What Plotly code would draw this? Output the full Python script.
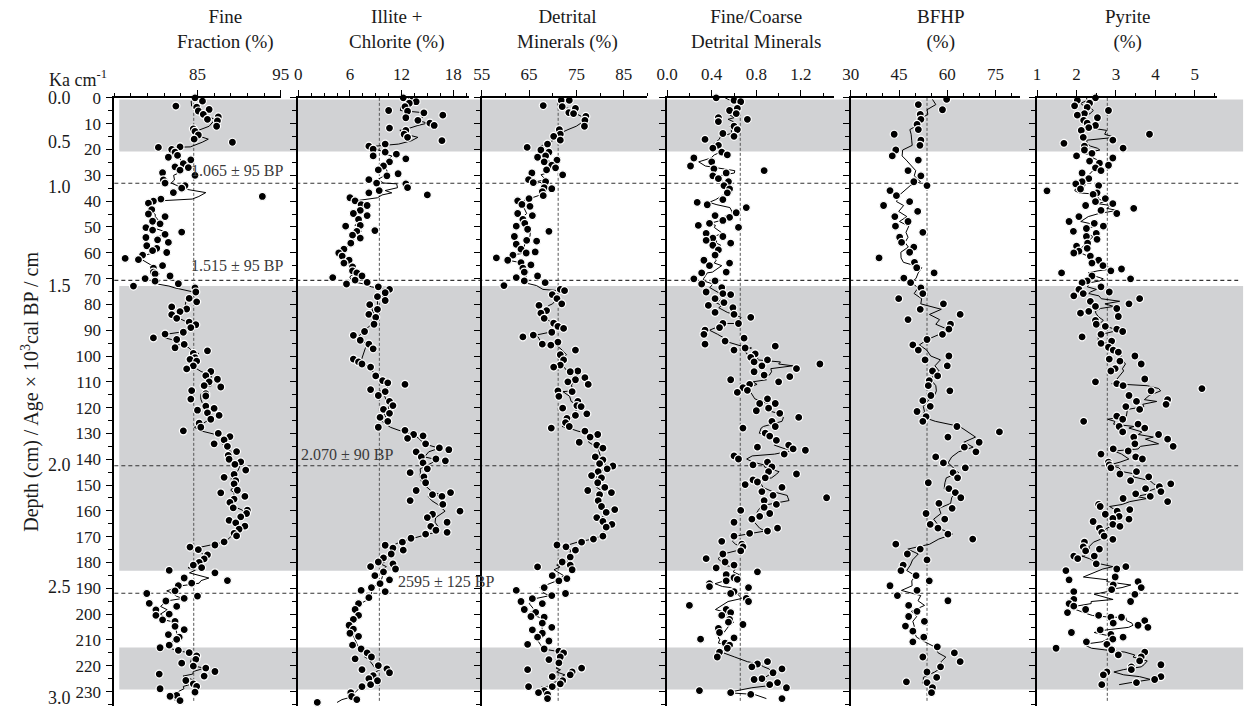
import numpy as np
import pandas as pd
import plotly.graph_objects as go

W, H = 1258, 707
FONT = "Liberation Serif, Times New Roman, serif"

# ---------------- data (depth in cm) ----------------
FINE_DEPTH = [0, 1.3, 3.2, 3.6, 4.5, 5.1, 6.4, 7.4, 8.3, 8.9, 11, 12, 13, 14.4, 16, 17.2, 19, 19.2, 20, 21,
              22.3, 23, 24, 25.5, 26.7, 27, 28, 29, 30, 31.8, 33, 34, 35, 36.7, 38.2, 39.2, 40, 40.8, 43.3, 45,
              46, 47.8, 48.8, 50.3, 51.2, 52, 52.9, 54.1, 55, 56, 57.3, 58.3, 59.2, 59.9, 60.9, 62.2, 62.7, 65, 66, 67.5,
              68.2, 69, 70, 71, 72, 72.9, 73.6, 75.2, 77.7, 79, 81, 81.8, 82.8, 84, 85.4, 86.9, 87.9, 89, 90.8, 91.5,
              93, 93.6, 95.5, 96.8, 98, 99, 100.6, 101.3, 102, 103.8, 105, 106, 107.6, 109, 110, 111.5, 112, 113.4, 114.6, 115.5,
              116.7, 119.4, 120.3, 121, 122, 123, 124.5, 126, 127.6, 129, 130, 131.2, 132.5, 134, 135, 137, 138.5, 140, 141, 142,
              144.2, 145.9, 147, 148.3, 149.5, 152, 153, 154.4, 155.4, 156.7, 158.8, 159.7, 161, 162.3, 163.7, 164.6, 165.9, 167.1, 168.7, 169.7,
              172, 173.2, 174, 175, 177, 178.6, 179.9, 181, 182, 183, 184, 186, 187, 188, 189, 191, 192, 193, 193.9, 194.9,
              195.8, 197, 198.3, 200, 200.5, 202.2, 202.8, 204.7, 206, 207.9, 208.9, 209.8, 212, 213, 214, 214.9, 216.2, 217.5, 219, 220.1,
              220.9, 222.2, 223.2, 224, 225.7, 227, 228, 228.9, 230.2, 231.5, 231.8, 233.5]
FINE = [84.7, 85.6, 82.4, 84.9, 86.4, 85.1, 85.7, 87.5, 86.2, 87.4, 87.3, 84.5, 84.7, 85.1, 84.6, 89.2, 82.9, 80.3, 81.9, 82.3,
        82.6, 81.5, 84.2, 83.3, 82.3, 83.9, 82.9, 80.8, 84.7, 80.9, 81.1, 83.5, 83.1, 82.1, 92.8, 80.6, 79.7, 79.1, 79.5, 79.1,
        81.1, 79.6, 80.5, 78.8, 79.6, 83.1, 81.1, 78.8, 80.2, 81.5, 78.9, 80.1, 79.6, 81.3, 78.4, 76.3, 77.9, 80.8, 79.7, 79.7,
        79.9, 81.7, 78.7, 79.9, 82.7, 77.3, 84.7, 84.8, 84.0, 84.9, 81.9, 83.7, 82.9, 81.9, 82.5, 84.0, 84.8, 84.2, 83.3, 81.1,
        79.7, 82.5, 83.4, 82.3, 86.2, 84.5, 84.7, 84.1, 84.9, 84.5, 83.7, 86.6, 86.0, 87.4, 86.4, 85.8, 87.8, 84.3, 86.0, 86.0,
        84.2, 86.0, 87.0, 85.0, 86.2, 87.6, 86.6, 85.2, 85.4, 83.3, 87.5, 88.9, 88.2, 87.0, 88.6, 89.7, 88.7, 88.8, 90.2, 89.5,
        90.8, 89.4, 88.2, 89.6, 89.4, 89.8, 87.8, 90.7, 89.4, 88.9, 89.3, 91.0, 90.9, 90.2, 88.8, 89.6, 90.7, 90.0, 89.4, 89.7,
        88.2, 87.1, 84.1, 85.1, 86.2, 85.8, 85.2, 84.5, 85.5, 81.6, 87.1, 83.4, 88.6, 84.3, 82.7, 82.3, 78.9, 85.0, 83.4, 81.2,
        79.2, 82.5, 80.0, 81.6, 80.0, 80.8, 82.3, 82.3, 83.4, 81.5, 82.8, 82.5, 81.6, 80.5, 82.7, 84.0, 84.9, 84.8, 83.1, 84.5,
        86.0, 87.1, 80.4, 85.8, 83.6, 84.5, 84.9, 80.5, 84.7, 82.5, 81.7, 82.9]

ILLITE_DEPTH = [0, 1, 1.5, 2.1, 3.4, 4.9, 5.2, 5.8, 6.7, 7.7, 8.7, 9.8, 10.7, 11.7, 12.6, 14.1, 15.3, 16.6, 17.9, 18.7,
                19.9, 21, 21.8, 22.5, 23.6, 24.8, 26.4, 27.9, 29.4, 30.2, 31.7, 33, 33.3, 34.8, 35.9, 36.8, 37.6, 38.7, 39.9, 41.4,
                41.7, 43.6, 44.8, 45.6, 47.1, 49.4, 49.7, 51.4, 51.7, 53.2, 54.3, 56.3, 58.6, 60.1, 61.3, 62.9, 64, 65.5, 67, 67.8,
                69, 69.6, 70.6, 71.5, 72.1, 73.2, 74.2, 75.5, 77, 78.5, 80.1, 81.9, 83.9, 85, 87.7, 90.5, 92, 93.9, 95.4, 97.2,
                101.2, 102.3, 103.1, 104.3, 107.7, 109.5, 110.4, 111, 113, 113.8, 115.3, 117.6, 119.2, 120.7, 122.2, 123.8, 125.3, 127.6, 128.8, 130.4,
                130.9, 131.9, 134, 135.6, 136.3, 137.1, 139.1, 139.9, 140.6, 141.4, 143.7, 145.2, 146.8, 149.1, 152.1, 152.9, 153.7, 154.4, 156, 157.5,
                160.1, 161.3, 162.6, 164.4, 166, 167.5, 168.3, 169, 170.6, 172.1, 173.3, 174.4, 175.2, 176.7, 178.2, 179.8, 180.5, 181.6, 182.5, 183.6,
                185.1, 186.7, 188.2, 189.7, 190.8, 191.3, 193.6, 195.9, 198.2, 200.5, 202, 204.3, 205.8, 207.4, 208.6, 212, 213.5, 215, 216.6, 217.3,
                219.9, 221.2, 221.5, 222.7, 223.8, 225, 225.8, 227.3, 228.1, 230.4, 231.9, 233.1, 234.2]
ILLITE = [12.2, 13.3, 13.7, 12.9, 12.4, 10.5, 12.7, 14.6, 16.8, 12.5, 13.9, 15.3, 15.8, 10.6, 12.5, 12.3, 12.7, 16.7, 10.1, 8.2,
          8.7, 10.1, 11.4, 8.7, 12.5, 10.6, 9.9, 9.3, 11.6, 10.3, 8.2, 9.1, 12.5, 12.7, 9.4, 8.2, 15.0, 6.0, 6.6, 7.3,
          8.0, 7.2, 6.4, 8.0, 7.0, 7.2, 5.5, 8.9, 6.8, 6.3, 7.2, 6.1, 5.3, 4.7, 5.1, 5.9, 5.3, 6.3, 6.3, 6.8,
          7.4, 4.0, 6.6, 8.0, 5.6, 9.3, 10.6, 10.1, 9.2, 10.1, 8.3, 9.2, 8.2, 9.0, 8.8, 7.7, 6.4, 7.2, 8.2, 8.7,
          6.4, 7.0, 7.4, 8.4, 9.0, 9.8, 10.4, 12.4, 8.4, 10.1, 9.3, 10.6, 11.0, 9.9, 10.6, 9.5, 10.4, 9.3, 12.4, 13.4,
          14.5, 12.7, 14.8, 16.4, 17.5, 13.7, 14.3, 16.0, 17.1, 14.5, 15.0, 13.0, 14.6, 14.8, 13.7, 17.7, 15.6, 16.7, 13.0, 16.8,
          18.8, 15.6, 15.0, 17.3, 15.4, 16.0, 17.3, 14.8, 13.1, 12.1, 10.1, 11.0, 12.2, 10.8, 9.9, 9.3, 11.0, 8.4, 11.3, 9.9,
          8.9, 10.6, 9.5, 8.5, 7.3, 10.1, 8.2, 7.0, 6.6, 7.0, 6.4, 5.9, 6.4, 6.0, 7.0, 6.3, 7.3, 8.0, 8.5, 6.6,
          9.3, 10.3, 7.4, 10.6, 8.7, 8.2, 9.2, 8.4, 7.4, 6.1, 6.2, 6.8, 2.2]

DETRITAL_DEPTH = [1, 1, 3, 3.4, 4.1, 5.7, 6.1, 7.2, 8.7, 11, 12.3, 14.1, 14.9, 16.4, 17.9, 19.2, 20.2, 21, 22.5, 23,
                  24.1, 24.8, 26.1, 27.1, 27.9, 29.1, 29.8, 31.7, 32.5, 32.8, 34.8, 35.2, 36.3, 37.9, 39, 39.9, 41.3, 42, 44.8, 45.6,
                  47.1, 48.6, 49.7, 50.9, 51.7, 53.7, 55.2, 55.5, 56.7, 58.6, 59.7, 60.1, 60.9, 62, 62.9, 63.8, 64.7, 66, 67.5, 69,
                  69.6, 70.9, 71.6, 72.7, 74.2, 74.7, 76.2, 77.8, 79.8, 80.4, 82.4, 83.4, 85.4, 87.3, 88.5, 89.3, 90.8, 91.9, 92.6, 94.6,
                  95.4, 95.8, 97.7, 99.5, 101.5, 103.5, 104.3, 105.8, 106.1, 108.4, 109.2, 110, 111, 113.5, 113.8, 115.6, 117.6, 119.2, 119.6, 120.2,
                  122.4, 123, 124.2, 125.8, 127.3, 127.9, 129.1, 130.4, 131.4, 133.4, 134.5, 135.7, 139.1, 140.2, 141.7, 142.6, 143.7, 144.8, 146.3, 147.2,
                  149.1, 150.9, 152.1, 152.9, 153.7, 156, 158.3, 159.5, 160.6, 162.6, 164.1, 165.2, 166.3, 169.8, 170.9, 172.1, 173.2, 173.9, 175.2, 177.9,
                  179.8, 181, 181.7, 182.8, 185.1, 186.2, 187.1, 189.7, 190.8, 192, 192.8, 194, 195.1, 195.9, 198.2, 199.3, 200.9, 201.2, 203.5, 205.1,
                  206.1, 207.4, 208.9, 210.4, 211.7, 213.5, 214.3, 215, 216.6, 217.6, 218.9, 220.9, 221.5, 222.4, 223.5, 224.2, 225.8, 227, 228.1, 228.1,
                  229.6, 230.4, 231.1, 232.7]
DETRITAL = [71.8, 73.5, 68.0, 72.0, 74.8, 73.4, 74.4, 77.0, 76.8, 76.7, 71.4, 71.6, 70.2, 71.6, 68.9, 64.6, 67.5, 69.2, 68.5, 66.8,
            70.9, 68.2, 69.8, 70.6, 68.7, 65.6, 72.1, 64.9, 68.5, 65.9, 68.2, 69.8, 67.8, 68.0, 65.0, 62.6, 63.5, 65.2, 62.6, 65.7,
            63.7, 64.1, 62.3, 64.7, 69.2, 61.9, 64.5, 66.6, 62.3, 63.3, 66.3, 64.4, 61.6, 58.1, 60.5, 63.3, 65.4, 63.7, 64.0, 66.8,
            62.3, 64.0, 68.4, 59.7, 71.6, 72.5, 69.9, 70.9, 71.9, 67.1, 68.7, 67.5, 68.2, 70.2, 71.1, 72.3, 69.8, 65.9, 63.7, 71.1,
            67.8, 69.6, 74.8, 71.6, 72.3, 71.6, 70.2, 75.3, 73.7, 76.8, 74.8, 73.2, 77.5, 71.1, 74.1, 71.3, 75.3, 75.1, 76.0, 72.1,
            77.2, 74.8, 73.0, 72.7, 73.5, 69.7, 76.8, 79.5, 77.9, 75.6, 79.3, 80.6, 79.0, 80.6, 79.9, 82.7, 81.5, 79.6, 78.2, 80.3,
            79.5, 81.0, 77.4, 82.4, 79.9, 79.6, 80.3, 83.1, 81.3, 79.3, 80.6, 82.5, 81.3, 80.6, 78.6, 76.1, 70.9, 72.8, 74.8, 73.7,
            72.0, 73.7, 66.8, 74.1, 69.9, 73.0, 71.3, 68.2, 62.3, 72.7, 69.8, 65.7, 63.3, 67.8, 64.0, 66.4, 65.4, 68.2, 67.8, 69.8,
            65.7, 67.8, 66.8, 69.2, 64.7, 68.2, 71.3, 72.3, 71.6, 69.2, 71.3, 76.1, 64.7, 74.1, 73.7, 69.9, 72.1, 71.6, 64.9, 69.9,
            68.2, 67.0, 68.9, 68.9]

RATIO_DEPTH = [0, 1, 1.5, 4.1, 4.9, 6.1, 7.7, 8.3, 9.2, 11, 12.3, 13.8, 14.9, 16.1, 18.4, 19.5, 21, 22.1, 23.3, 24.8,
               26.4, 27.5, 28.2, 29.1, 30.2, 31.3, 32.5, 34, 35.3, 36.8, 39.4, 40.5, 41.4, 42.5, 44.5, 45.6, 46.3, 47.5, 48.6, 49.4,
               50.2, 52.5, 53.7, 54.3, 55.2, 56.3, 57.1, 58.9, 60.9, 62.9, 64, 65, 67.5, 67.8, 70.1, 70.9, 72.1, 73.5, 75.2, 75.8,
               76.2, 77.8, 79.3, 80.4, 81.3, 83.1, 83.9, 85, 87.4, 87.4, 89, 90, 91.6, 93.1, 94.2, 95.4, 96.2, 96.9, 97.7, 99.2,
               100.5, 101.5, 102.3, 103.1, 103.8, 104.9, 106.1, 107.4, 108, 109.2, 110, 111, 112.3, 113.3, 114.1, 116.6, 118.4, 118.4, 120.2, 121.2,
               122.2, 123.8, 125.3, 127.3, 127.9, 129.9, 131, 132.7, 134.5, 135.3, 136, 136.5, 138, 138.7, 139.9, 141.1, 142.2, 143, 144.8, 145.7,
               147.2, 148, 148.8, 149.8, 150.9, 152.5, 154, 154.9, 156, 157.5, 158.6, 159.8, 161, 162.1, 163.2, 164.4, 166.7, 167.8, 168.7, 169.8,
               171.8, 172.9, 173.9, 175.5, 176.7, 178.5, 179.8, 181, 182.1, 183.6, 184.7, 185.9, 186.5, 187.1, 188.2, 189.3, 189.7, 191.3, 192, 193.9,
               195.1, 196.6, 198.2, 199.4, 200.5, 202, 203.1, 204, 205.5, 207.1, 209.2, 209.7, 211.2, 212, 213.2, 214.7, 216.6, 218.4, 219.3, 220.4,
               221.2, 222.7, 225, 225.3, 226.5, 227.3, 228.5, 229.6, 230.4, 231.1, 232.7]
RATIO = [0.44, 0.60, 0.66, 0.63, 0.56, 0.62, 0.46, 0.72, 0.46, 0.60, 0.63, 0.50, 0.60, 0.34, 0.46, 0.41, 0.49, 0.54, 0.24, 0.40,
         0.21, 0.42, 0.87, 0.53, 0.41, 0.46, 0.55, 0.51, 0.56, 0.54, 0.50, 0.27, 0.36, 0.71, 0.62, 0.43, 0.56, 0.50, 0.38, 0.28,
         0.64, 0.35, 0.50, 0.41, 0.35, 0.57, 0.41, 0.46, 0.43, 0.33, 0.56, 0.38, 0.53, 0.31, 0.24, 0.43, 0.31, 0.49, 0.35, 0.50,
         0.57, 0.43, 0.51, 0.37, 0.59, 0.43, 0.60, 0.75, 0.64, 0.50, 0.47, 0.34, 0.33, 0.69, 0.52, 0.34, 0.97, 0.70, 0.60, 0.79,
         0.75, 0.90, 0.78, 1.37, 0.85, 1.16, 0.78, 0.87, 1.10, 0.57, 1.00, 0.74, 0.68, 0.72, 0.63, 0.90, 0.83, 0.97, 0.91, 0.80,
         1.01, 1.18, 0.94, 0.97, 0.68, 0.88, 0.92, 0.98, 1.09, 0.81, 1.13, 1.24, 1.05, 0.60, 0.64, 0.90, 0.77, 0.94, 0.91, 1.16,
         0.88, 0.77, 0.81, 0.70, 1.03, 0.85, 0.95, 1.43, 0.87, 0.98, 0.87, 0.66, 0.92, 0.83, 0.76, 0.60, 0.99, 0.90, 0.74, 0.60,
         0.49, 0.67, 0.68, 0.66, 0.50, 0.35, 0.52, 0.60, 0.44, 0.81, 0.53, 0.60, 0.63, 0.53, 0.38, 0.38, 0.73, 0.60, 0.57, 0.71,
         0.73, 0.20, 0.53, 0.57, 0.49, 0.56, 0.55, 0.68, 0.46, 0.47, 0.60, 0.30, 0.52, 0.56, 0.54, 0.47, 0.45, 0.90, 0.81, 0.76,
         1.03, 0.95, 0.85, 0.78, 0.99, 0.92, 1.07, 0.29, 0.57, 0.75, 1.03]

BFHP_DEPTH = [0.6, 2.6, 4.6, 6.4, 8.3, 10.3, 12.3, 14.1, 16.4, 18.4, 20.2, 22.5, 24.1, 28.2, 30.2, 32.5, 34, 35.9, 37.9, 40.2,
              41.7, 44, 46, 47.9, 49.7, 52.1, 54, 56, 57.8, 59.8, 62, 63.7, 65.8, 67.8, 69.8, 71.6, 73.6, 75.8, 77.8, 79.8,
              81.9, 83.9, 85.9, 87.7, 89.6, 91.6, 93.6, 95.7, 97.7, 100, 101.5, 103.8, 105.8, 107.7, 109.5, 111.5, 113.5, 115.3, 117.3, 119.5,
              121.5, 123.5, 125.3, 127.3, 129.4, 131.4, 133.4, 135.3, 137.1, 139.1, 141.4, 143.3, 145.2, 147.2, 149.1, 151.4, 152.9, 154.9, 157.1, 159,
              161, 163.2, 165.2, 166.7, 169, 170.9, 172.9, 174.8, 176.7, 179, 181, 183.1, 185.1, 187.1, 189, 190.8, 192.8, 194.8, 196.6, 198.9,
              200.9, 202.8, 204.6, 206.6, 208.9, 210.7, 212.7, 215, 216.6, 218.4, 220.4, 222.4, 224.5, 226.2, 226.5, 228.5, 230.4]
BFHP = [59.8, 51.0, 58.5, 51.6, 51.8, 50.6, 51.0, 43.5, 51.8, 51.5, 44.0, 42.9, 51.0, 47.8, 51.8, 49.6, 53.7, 42.2, 44.2, 48.3,
        40.2, 50.8, 43.7, 47.8, 43.9, 52.4, 45.2, 45.8, 49.6, 48.3, 38.8, 49.8, 50.5, 55.9, 46.5, 48.6, 51.8, 52.4, 44.9, 58.8,
        51.6, 64.0, 47.8, 61.0, 60.5, 58.5, 53.7, 49.3, 51.0, 60.5, 53.1, 60.0, 55.4, 57.0, 54.4, 54.1, 60.8, 54.9, 52.4, 54.7,
        50.6, 53.4, 52.4, 63.0, 76.2, 60.2, 69.9, 65.3, 68.9, 56.4, 58.8, 65.6, 61.8, 63.2, 54.1, 60.5, 62.5, 64.2, 57.4, 61.5,
        53.4, 59.2, 54.7, 57.1, 60.2, 67.9, 44.0, 51.6, 47.6, 53.7, 46.3, 45.6, 50.3, 54.4, 42.2, 50.6, 44.5, 60.2, 48.0, 50.6,
        48.0, 52.9, 47.0, 49.3, 52.7, 49.3, 56.9, 62.2, 52.4, 64.0, 57.9, 53.7, 56.7, 47.3, 53.7, 55.4, 55.1]

PYRITE_DEPTH = [0, 1, 2.1, 3.1, 3.7, 4.9, 6.1, 6.7, 7.7, 8.7, 9.8, 10.7, 11.5, 12.6, 14.1, 15.3, 16.4, 17.6, 18.7, 19.5,
                20.2, 21.5, 22.5, 23.3, 24.5, 25.3, 26.1, 27.1, 28.2, 29.1, 31.3, 32.5, 33.3, 34, 35.3, 36, 36.8, 37.4, 39, 40.2,
                41, 41.7, 42.8, 43.6, 44.8, 46, 47.9, 48.6, 49.7, 50.6, 51.7, 52.5, 53.7, 54.8, 56.3, 57.4, 58.3, 59.4, 60.1, 61.3,
                62.9, 64, 65, 66.3, 67, 67.8, 69, 70.1, 70.9, 71.6, 73.2, 74.2, 75.2, 75.8, 76.7, 77.8, 78.8, 79.8, 80.8, 81.6,
                82.7, 83.4, 84.7, 86.2, 87.7, 88.5, 89.6, 90.5, 91.6, 92.6, 94.2, 95.1, 96.6, 97.7, 98.5, 100, 101.2, 102, 103.1, 104.9,
                105.8, 108.9, 110, 110.7, 111.5, 112.6, 113.5, 115.3, 116.9, 117.6, 118.7, 119.6, 120.7, 123.3, 124.5, 125.3, 126.4, 127.3, 127.9, 129.4,
                130.4, 131.4, 132.2, 134, 135, 136, 136.8, 138, 139.1, 139.9, 141.1, 142.2, 143.3, 144.8, 145.7, 146.8, 148.3, 149.5, 150.6, 151.4,
                152.5, 153.4, 154.4, 155.2, 156.4, 157.5, 158.3, 159.5, 160.1, 161.3, 162.1, 162.9, 163.2, 164.1, 165.2, 166, 166.7, 168.3, 169.8, 171,
                172.1, 173.9, 174.8, 175.5, 177.5, 177.5, 178.5, 180.5, 181.6, 182.5, 183.1, 185.6, 186.7, 187.4, 188.7, 189.7, 190.5, 191.3, 192.3, 194.3,
                195.1, 195.9, 196.9, 198.2, 199.4, 200.5, 201.2, 201.2, 202.5, 203.5, 204.3, 205.1, 206.1, 207.1, 207.8, 208.9, 209.7, 210.7, 211.7, 213.2,
                213.8, 214.7, 215.8, 216.6, 218.1, 219.6, 220.4, 221.5, 222.4, 223.5, 224.2, 225.3, 226.5, 227.3]
PYRITE = [2.48, 2.02, 2.33, 1.95, 2.27, 2.81, 2.20, 2.02, 2.53, 2.18, 2.27, 2.48, 2.31, 2.12, 3.85, 2.17, 2.92, 1.68, 2.20, 3.18,
          2.20, 2.39, 2.00, 2.92, 2.33, 2.58, 2.81, 2.48, 2.62, 2.14, 2.31, 2.14, 1.98, 2.56, 2.10, 1.25, 2.52, 2.42, 2.73, 2.48,
          2.92, 2.23, 3.45, 2.62, 3.02, 2.06, 1.81, 2.45, 2.68, 2.25, 1.92, 2.50, 2.25, 2.52, 2.28, 2.00, 2.27, 2.06, 1.93, 2.35,
          2.56, 2.39, 2.67, 3.14, 2.87, 1.62, 2.39, 3.37, 2.27, 2.14, 2.62, 2.06, 2.83, 2.17, 1.93, 3.60, 2.35, 3.33, 2.48, 3.02,
          2.31, 2.10, 3.06, 2.48, 2.50, 2.73, 3.02, 3.17, 2.62, 2.14, 2.89, 2.62, 2.81, 2.93, 3.06, 3.48, 2.83, 3.10, 3.64, 2.98,
          2.87, 3.73, 2.48, 3.02, 3.18, 5.18, 3.89, 3.33, 4.31, 3.52, 4.27, 3.25, 3.60, 3.02, 3.17, 2.18, 3.56, 3.08, 3.73, 3.17,
          4.08, 3.45, 4.31, 3.48, 4.45, 2.93, 3.31, 2.62, 3.50, 3.67, 2.81, 2.83, 2.87, 3.52, 3.10, 3.83, 3.37, 4.39, 4.10, 3.75,
          4.14, 3.50, 3.87, 3.18, 4.31, 2.56, 2.60, 3.35, 3.03, 2.73, 3.08, 2.92, 3.33, 2.42, 2.92, 3.10, 2.58, 2.64, 2.70, 2.92,
          2.20, 2.17, 2.58, 2.23, 1.93, 2.45, 2.03, 2.50, 3.25, 3.02, 1.73, 2.98, 1.81, 3.56, 2.93, 3.64, 2.89, 1.93, 3.48, 1.93,
          3.37, 1.81, 1.93, 2.23, 1.77, 2.56, 2.87, 3.14, 3.73, 2.93, 3.56, 3.81, 2.60, 1.87, 2.87, 3.18, 2.92, 2.25, 2.77, 1.48,
          2.89, 3.73, 3.06, 3.64, 3.60, 4.14, 3.39, 3.39, 2.77, 2.68, 4.14, 3.98, 3.52, 2.64]

TITLES = ["Fine<br>Fraction (%)", "Illite +<br>Chlorite (%)", "Detrital<br>Minerals (%)",
          "Fine/Coarse<br>Detrital Minerals", "BFHP<br>(%)", "Pyrite<br>(%)"]
MEANS = [84.55, 9.42, 71.15, 0.656, 53.7, 2.78]
RANGES = [[75, 95], [0, 19.8], [55, 90], [0, 1.5], [30, 82.5], [1, 5.55]]
MAJOR_TICKS = [[85, 95], [0, 6, 12, 18], [55, 65, 75, 85], [0, 0.4, 0.8, 1.2], [30, 45, 60, 75], [1, 2, 3, 4, 5]]
MAJOR_TEXT = [["85", "95"], ["0", "6", "12", "18"], ["55", "65", "75", "85"], ["0.0", "0.4", "0.8", "1.2"],
              ["30", "45", "60", "75"], ["1", "2", "3", "4", "5"]]
MINOR_STEP = [2, 1.5, 5, 0.2, 5, 0.5]

BANDS = [[0.6, 20.8], [72.9, 183.2], [212.9, 229.2]]
DATE_LINES = [33.1, 70.7, 142.5, 191.9]
DATE_LABELS = ["1.065 ± 95 BP", "1.515 ± 95 BP", "2.070 ± 90 BP", "2595 ± 125 BP"]
DATE_LABEL_DEPTH = [28.3, 64.9, 138.0, 187.3]
AGE_LABELS = ["0.0", "0.5", "1.0", "1.5", "2.0", "2.5", "3.0"]
AGE_DEPTH = [0, 17.2, 34.4, 72.7, 142.1, 189.3, 232.4]

# ---------------- layout geometry (pixels) ----------------
PANEL_L = [105, 292, 478.3, 666.7, 853.3, 1042.7]
PANEL_R = [274, 465, 646.7, 836.7, 1025, 1225]
TITLE_X = [218, 392, 565, 757, 945, 1135]
DATE_X = [181, 181, 293, 391]
Y_TOP, Y_BOT = 90, 705.8
DEPTH_MAX = 235.5

datasets = [(FINE_DEPTH, FINE), (ILLITE_DEPTH, ILLITE), (DETRITAL_DEPTH, DETRITAL),
            (RATIO_DEPTH, RATIO), (BFHP_DEPTH, BFHP), (PYRITE_DEPTH, PYRITE)]

fig = go.Figure()
layout = {}
shapes = []
ann = []
ydom = [1 - Y_BOT / H, 1 - Y_TOP / H]
tickfont = dict(family=FONT, size=17, color="#1a1a1a")

for i, (dep, val) in enumerate(datasets, start=1):
    d = np.asarray(dep, dtype=float)
    v = np.asarray(val, dtype=float)
    order = np.argsort(d, kind="stable")
    d, v = d[order], v[order]
    smooth = pd.Series(v).rolling(3, center=True, min_periods=1).mean().values
    xa = "x" if i == 1 else f"x{i}"
    ya = "y" if i == 1 else f"y{i}"
    fig.add_trace(go.Scatter(x=smooth, y=d, mode="lines", line=dict(color="black", width=1),
                             xaxis=xa, yaxis=ya, hoverinfo="skip", showlegend=False))
    fig.add_trace(go.Scatter(x=v, y=d, mode="markers",
                             marker=dict(size=8, color="black", line=dict(color="white", width=1.2)),
                             xaxis=xa, yaxis=ya, cliponaxis=False, showlegend=False))
    k = i - 1
    xkey = "xaxis" if i == 1 else f"xaxis{i}"
    ykey = "yaxis" if i == 1 else f"yaxis{i}"
    layout[xkey] = dict(
        domain=[PANEL_L[k] / W, PANEL_R[k] / W], anchor=ya, side="top", range=RANGES[k],
        tickmode="array", tickvals=MAJOR_TICKS[k], ticktext=MAJOR_TEXT[k],
        ticks="outside", ticklen=6, tickwidth=1.3, tickcolor="black",
        showline=True, linecolor="black", linewidth=1.8, showgrid=False, zeroline=False,
        tickfont=tickfont, ticklabelstandoff=3,
        minor=dict(tickmode="linear", tick0=RANGES[k][0], dtick=MINOR_STEP[k], ticks="outside",
                   ticklen=3, tickwidth=1, tickcolor="black", showgrid=False),
        fixedrange=True)
    layout[ykey] = dict(
        domain=ydom, anchor=xa, range=[DEPTH_MAX, 0],
        tickmode="linear", tick0=0, dtick=10, ticks="outside", ticklen=6, tickwidth=1.3, tickcolor="black",
        showline=True, linecolor="black", linewidth=1.8, showgrid=False, zeroline=False,
        showticklabels=(i == 1), tickfont=tickfont, ticklabelstandoff=2,
        minor=dict(tickmode="linear", tick0=5, dtick=10, ticks="outside", ticklen=4, tickwidth=1,
                   tickcolor="black", showgrid=False),
        fixedrange=True)
    # mean line
    shapes.append(dict(type="line", xref=xa, yref=ya, x0=MEANS[k], x1=MEANS[k], y0=0, y1=234,
                       line=dict(color="#555555", width=1, dash="3px,2px"), layer="below"))
    ann.append(dict(text=TITLES[k], x=TITLE_X[k] / W, y=1 - 20.5 / H, xref="paper", yref="paper",
                    xanchor="center", yanchor="middle", showarrow=False,
                    font=dict(family=FONT, size=19, color="#1a1a1a")))

for (a, b) in BANDS:
    shapes.insert(0, dict(type="rect", xref="paper", yref="y", x0=110 / W, x1=1252 / W, y0=a, y1=b,
                          fillcolor="#d1d2d4", line=dict(width=0), layer="below"))
for dl in DATE_LINES:
    shapes.append(dict(type="line", xref="paper", yref="y", x0=105 / W, x1=1247 / W, y0=dl, y1=dl,
                       line=dict(color="#333333", width=1.1, dash="4px,3px"), layer="below"))

for txt, dd, xx in zip(DATE_LABELS, DATE_LABEL_DEPTH, DATE_X):
    ann.append(dict(text=txt, x=xx / W, y=dd, xref="paper", yref="y", xanchor="left", yanchor="middle",
                    showarrow=False, font=dict(family=FONT, size=16, color="#3a3a3a")))
for txt, dd in zip(AGE_LABELS, AGE_DEPTH):
    ann.append(dict(text=txt, x=63 / W, y=dd, xref="paper", yref="y", xanchor="right", yanchor="middle",
                    showarrow=False, font=dict(family=FONT, size=18, color="#1a1a1a")))
ann.append(dict(text="Ka cm<sup>-1</sup>", x=37 / W, y=1 - 70 / H, xref="paper", yref="paper",
                xanchor="left", yanchor="middle", showarrow=False,
                font=dict(family=FONT, size=18, color="#1a1a1a")))
ann.append(dict(text="Depth (cm) / Age × 10<sup>3</sup>cal BP / cm", x=19 / W, y=1 - 388 / H,
                xref="paper", yref="paper", xanchor="center", yanchor="middle", textangle=-90,
                showarrow=False, font=dict(family=FONT, size=20, color="#1a1a1a")))

fig.update_layout(width=W, height=H, margin=dict(l=0, r=0, t=0, b=0), autosize=False,
                  paper_bgcolor="white", plot_bgcolor="rgba(0,0,0,0)", showlegend=False,
                  shapes=shapes, annotations=ann, **layout)
fig.write_html("out.html", config={"displayModeBar": False})
